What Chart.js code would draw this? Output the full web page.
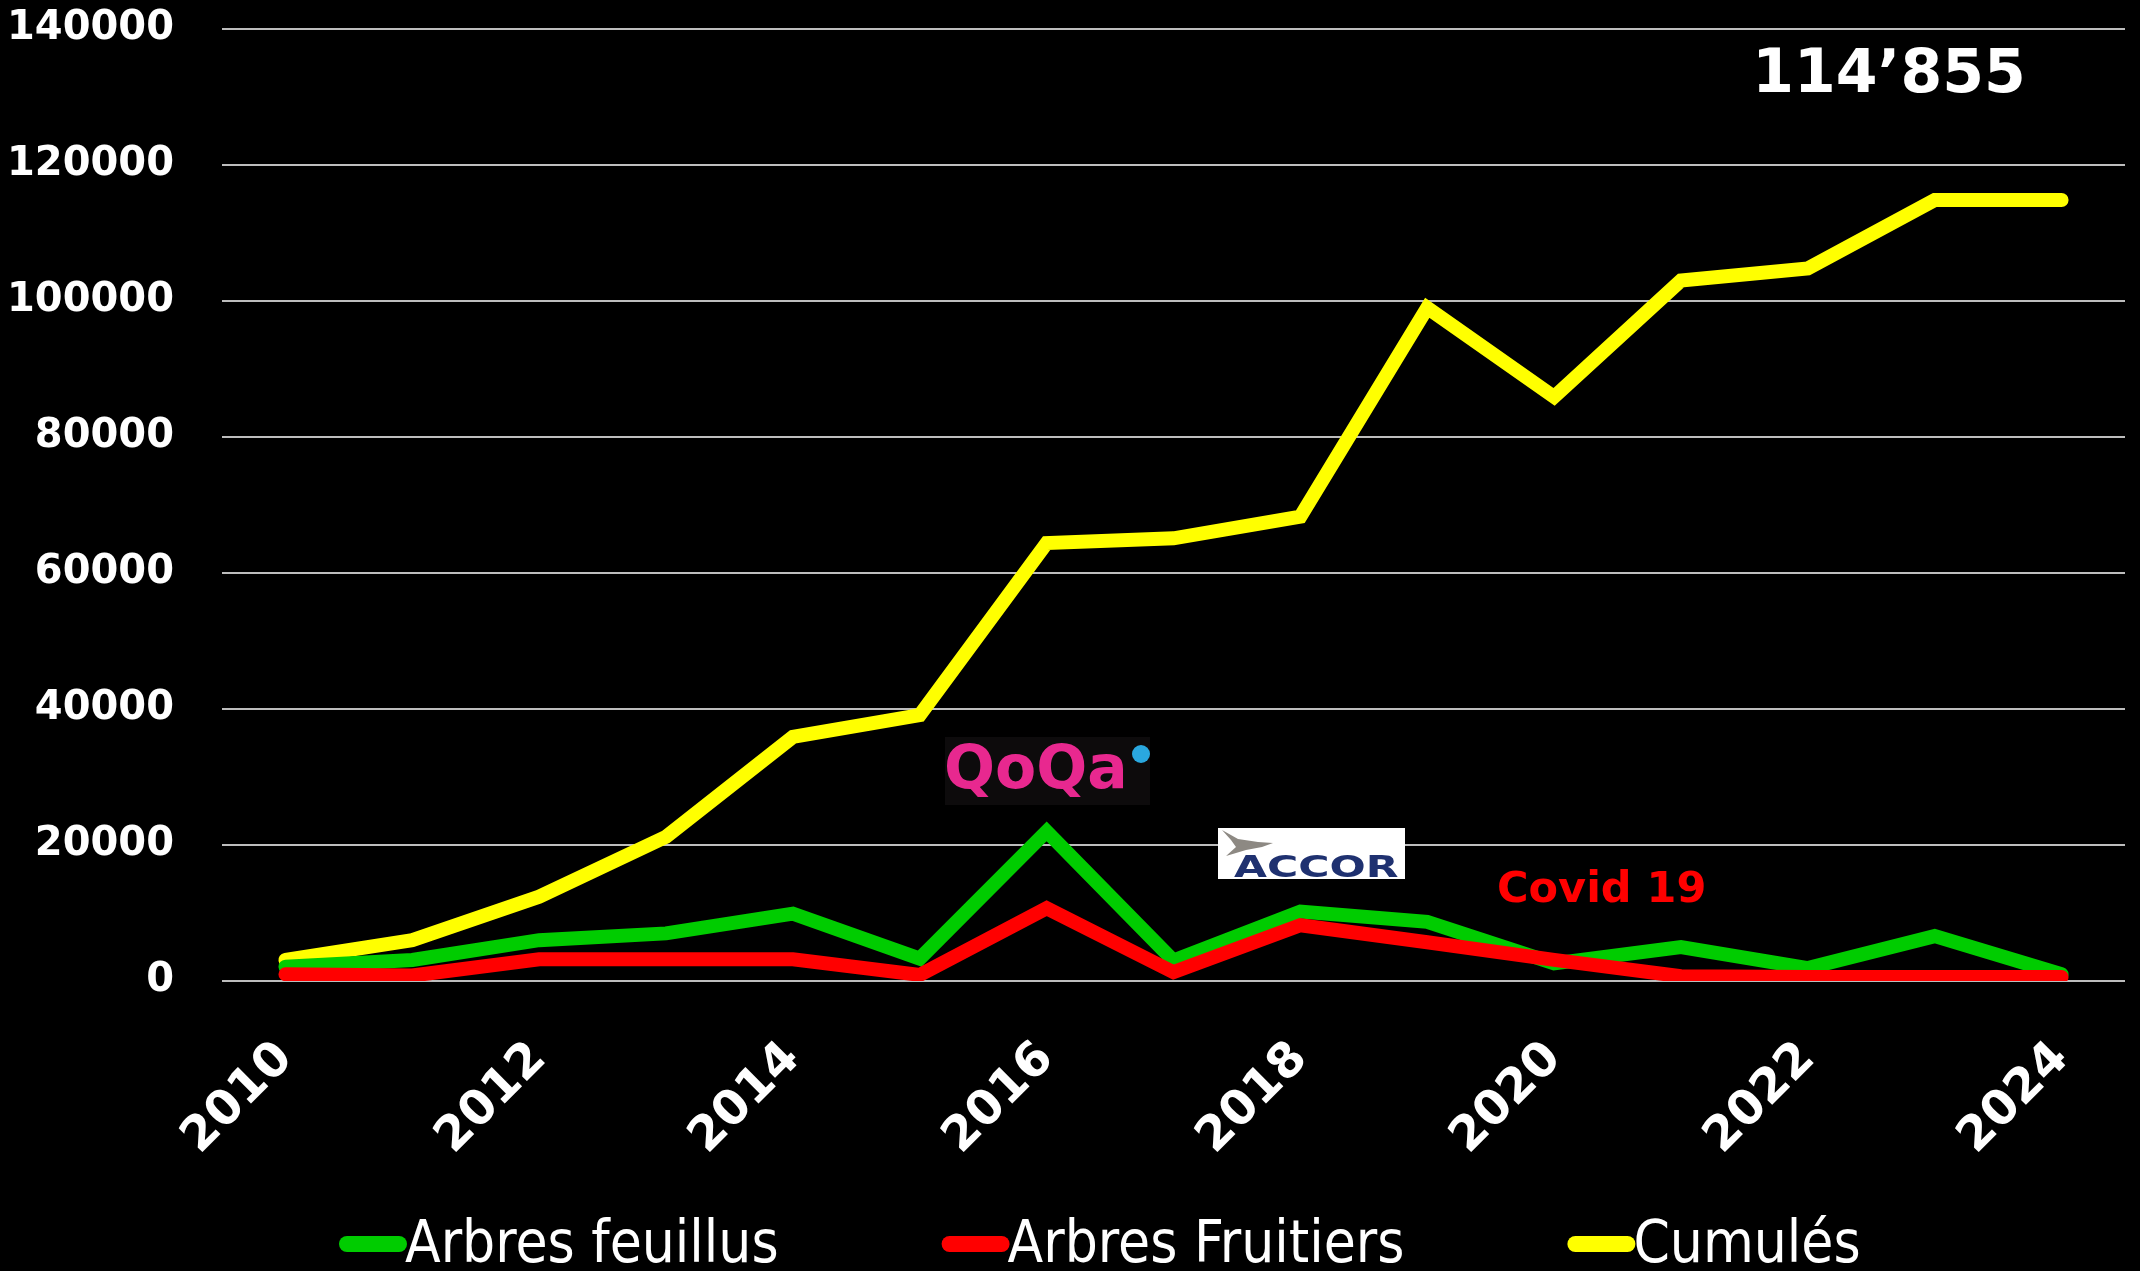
<!DOCTYPE html>
<html>
<head>
<meta charset="utf-8">
<script src="https://cdn.jsdelivr.net/npm/chart.js@4/dist/chart.umd.min.js"></script>
<style>
  html, body { margin: 0; padding: 0; background: #000; }
  canvas { display: block; }
</style>
</head>
<body>
<canvas id="chart" width="2140" height="1271"></canvas>
<script>
const years = ['2010','2011','2012','2013','2014','2015','2016','2017','2018','2019','2020','2021','2022','2023','2024']
const feuillus = [2100, 3100, 6000, 7000, 9900, 3300, 22000, 3000, 10200, 8700, 2600, 5000, 1900, 6600, 1000]
const fruitiers = [1000, 800, 3200, 3200, 3200, 900, 10700, 1300, 8200, 5700, 3100, 700, 600, 600, 600]
const cumules = [3100, 6000, 12400, 21200, 35900, 39100, 64400, 65100, 68300, 99000, 85900, 103000, 104800, 114855, 114855]
const yTicks = [0, 20000, 40000, 60000, 80000, 100000, 120000, 140000]
const seriesNames = ['Arbres feuillus', 'Arbres Fruitiers', 'Cumulés']
const totalText = '114’855'

const BOLD = '"DejaVu Sans", Verdana, sans-serif'

// black background + legend + the little notes / logos
const background = {
    id: 'background',
    beforeDraw(chart){
        const ctx = chart.ctx
        ctx.save()
        ctx.fillStyle = '#000'
        ctx.fillRect(0, 0, chart.width, chart.height)
        ctx.restore()
    }
}

const bottomLegend = {
    id: 'bottomLegend',
    afterDraw(chart){
        const ctx = chart.ctx
        ctx.save()
        ctx.font = '58px "Liberation Sans Narrow", "DejaVu Sans Condensed", "Open Sans", sans-serif'
        ctx.textBaseline = 'alphabetic'
        let x = 339
        chart.data.datasets.forEach(ds => {
            ctx.strokeStyle = ds.borderColor
            ctx.lineWidth = 16
            ctx.lineCap = 'round'
            ctx.beginPath()
            ctx.moveTo(x + 8, 1244)
            ctx.lineTo(x + 60, 1244)
            ctx.stroke()
            ctx.fillStyle = '#fff'
            ctx.fillText(ds.label, x + 66, 1262)
            x += 66 + ctx.measureText(ds.label).width + 163
        })
        ctx.restore()
    }
}

const notes = {
    id: 'notes',
    afterDraw(chart){
        const ctx = chart.ctx
        ctx.save()
        // total
        ctx.fillStyle = '#fff'
        ctx.font = 'bold 60px ' + BOLD
        ctx.textAlign = 'center'
        ctx.textBaseline = 'alphabetic'
        ctx.fillText(totalText, 1889, 92)

        // covid
        ctx.fillStyle = '#ff0000'
        ctx.font = 'bold 43px ' + BOLD
        ctx.textAlign = 'left'
        ctx.fillText('Covid 19', 1497, 902)

        // QoQa logo
        ctx.fillStyle = '#0d0b0c'
        ctx.fillRect(945, 737, 205, 68)
        ctx.fillStyle = '#e8288f'
        ctx.font = 'bold 60px ' + BOLD
        ctx.fillText('QoQa', 944, 788)
        ctx.fillStyle = '#2aa8e0'
        ctx.beginPath()
        ctx.arc(1141, 754, 9, 0, Math.PI * 2)
        ctx.fill()

        // ACCOR logo
        ctx.fillStyle = '#fff'
        ctx.fillRect(1218, 828, 187, 51)
        ctx.fillStyle = '#8d8983'
        ctx.beginPath()
        ctx.moveTo(1222, 830)
        ctx.lineTo(1238, 839)
        ctx.lineTo(1258, 842)
        ctx.lineTo(1273, 843)
        ctx.lineTo(1262, 847)
        ctx.lineTo(1246, 850)
        ctx.lineTo(1226, 856)
        ctx.lineTo(1236, 847)
        ctx.lineTo(1231, 840)
        ctx.closePath()
        ctx.fill()
        ctx.fillStyle = '#1f3170'
        ctx.font = 'bold 30px ' + BOLD
        ctx.translate(1234, 877)
        ctx.scale(1.42, 1)
        ctx.fillText('ACCOR', 0, 0)
        ctx.restore()
    }
}

const lineStyle = {
    borderWidth: 14,
    borderCapStyle: 'round',
    borderJoinStyle: 'miter',
    pointRadius: 0,
    pointHoverRadius: 0,
    tension: 0,
    fill: false
}

new Chart(document.getElementById('chart'), {
    type: 'line',
    data: {
        labels: years,
        datasets: [
            {...lineStyle, label: seriesNames[0], data: feuillus, borderColor: '#00cc00', backgroundColor: '#00cc00', order: 1},
            {...lineStyle, label: seriesNames[1], data: fruitiers, borderColor: '#ff0000', backgroundColor: '#ff0000', order: 0},
            {...lineStyle, label: seriesNames[2], data: cumules, borderColor: '#ffff00', backgroundColor: '#ffff00', order: 2}
        ]
    },
    options: {
        responsive: false,
        devicePixelRatio: 1,
        animation: false,
        layout: { padding: { left: 0, top: 29, right: 15, bottom: 90 } },
        plugins: {
            legend: { display: false },
            tooltip: { enabled: false }
        },
        scales: {
            x: {
                type: 'category',
                offset: true,
                grid: { display: false, drawTicks: false },
                border: { display: false },
                ticks: {
                    color: '#fff',
                    font: { family: BOLD, size: 48, weight: 'bold' },
                    autoSkip: false,
                    minRotation: 45,
                    maxRotation: 45,
                    padding: 50,
                    callback: function(value, index){
                        return index % 2 === 0 ? this.getLabelForValue(value) : ''
                    }
                },
                afterFit(scale){
                    scale.height = 200
                    scale.paddingLeft = 0
                    scale.paddingRight = 0
                }
            },
            y: {
                min: 0,
                max: 140000,
                afterBuildTicks(scale){ scale.ticks = yTicks.map(v => ({value: v})) },
                grid: { color: '#bdbdbd', lineWidth: 2, drawTicks: false },
                border: { display: false },
                ticks: {
                    color: '#fff',
                    font: { family: BOLD, size: 40, weight: 'bold' },
                    padding: 48,
                    callback: v => String(v)
                },
                afterFit(scale){
                    scale.width = 222
                    scale.paddingTop = 0
                    scale.paddingBottom = 0
                }
            }
        }
    },
    plugins: [background, bottomLegend, notes]
})
</script>
</body>
</html>
